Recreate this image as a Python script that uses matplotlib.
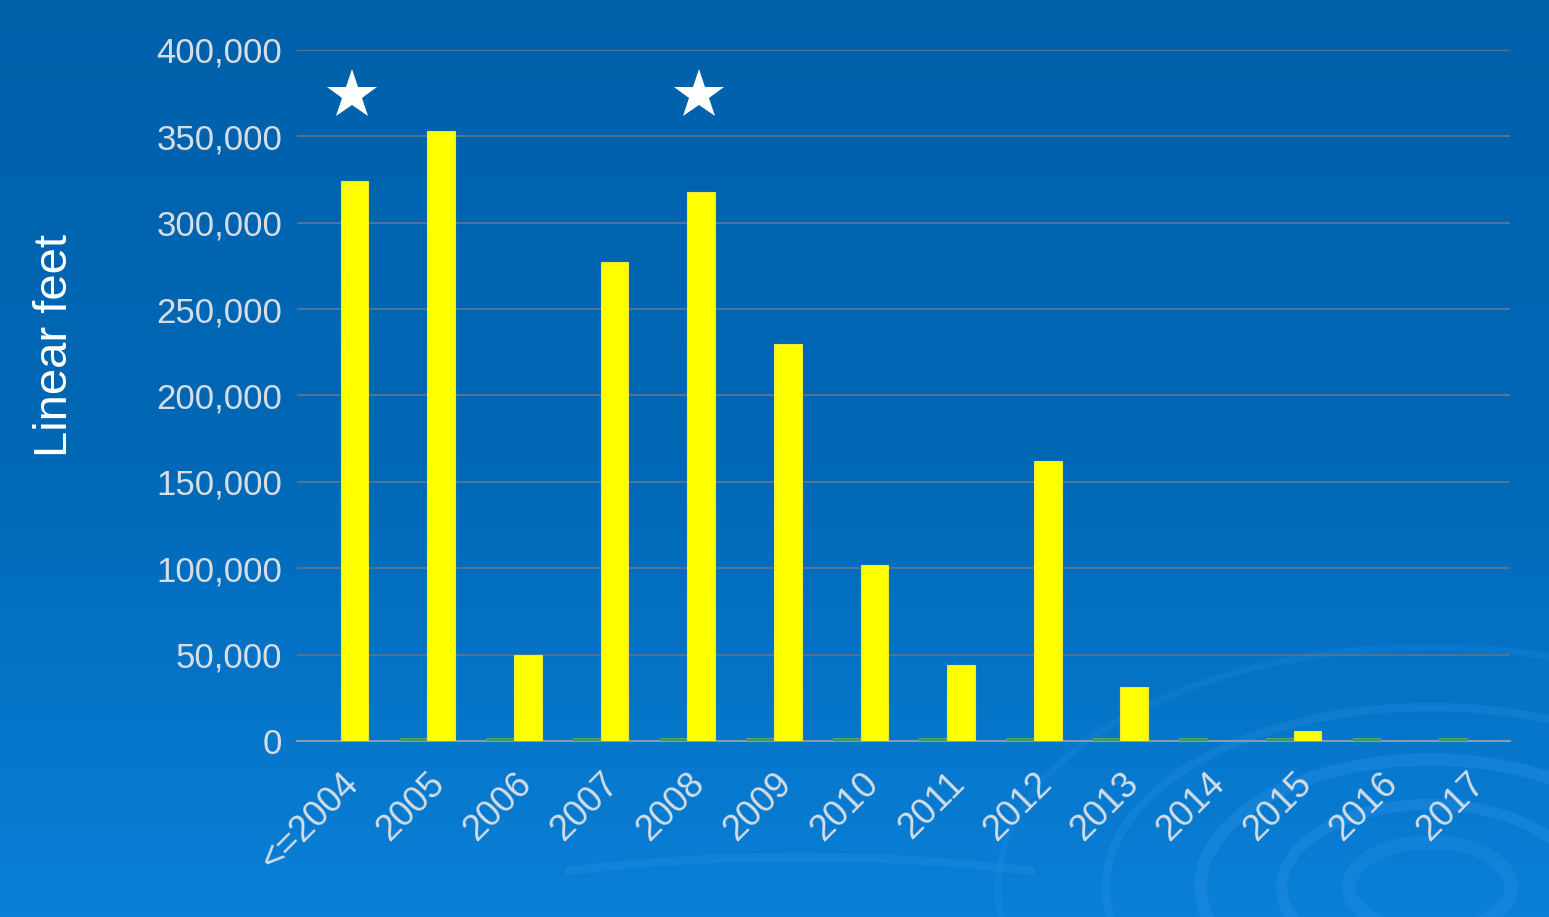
import numpy as np
import matplotlib.pyplot as plt
from matplotlib.patches import Arc
from matplotlib.colors import LinearSegmentedColormap

# data
years = ["<=2004", "2005", "2006", "2007", "2008", "2009", "2010",
         "2011", "2012", "2013", "2014", "2015", "2016", "2017"]
feet = [324000, 353000, 50000, 277000, 318000, 230000, 102000,
        44000, 162000, 31000, 0, 6000, 0, 0]
other = [0, 1600, 1600, 1600, 1600, 1600, 1600,
         1600, 1600, 1600, 1600, 1600, 1600, 1600]
starred = ["<=2004", "2008"]
star_height = 374000

plt.rcParams['font.family'] = ['Liberation Sans', 'DejaVu Sans']

fig = plt.figure(figsize=(15.49, 9.17), dpi=100)

# background gradient and swirl decoration
bg = fig.add_axes([0, 0, 1, 1])
grad = np.linspace(0, 1, 256).reshape(-1, 1)
cmap = LinearSegmentedColormap.from_list("bg", ["#0060aa", "#0068b6", "#0a80d8"])
bg.imshow(grad, aspect='auto', cmap=cmap, extent=[0, 1549, 0, 917], origin='upper')
for r, lw, a in [(60, 10, 0.2), (110, 8, 0.25), (170, 9, 0.25), (240, 6, 0.2), (320, 5, 0.15)]:
    bg.add_patch(Arc((1430, 30), 2 * r * 1.35, 2 * r * 0.75, theta1=0, theta2=360,
                     color="#3a9cf0", lw=lw, alpha=a))
bg.add_patch(Arc((800, -40), 900, 200, theta1=20, theta2=160, color="#3a9cf0", lw=6, alpha=0.2))
bg.set_xlim(0, 1549)
bg.set_ylim(0, 917)
bg.axis('off')

ax = fig.add_axes([0.192, 0.192, 0.783, 0.7535])
ax.patch.set_alpha(0)

x = np.arange(len(years))
w = 0.32
ax.bar(x - w / 2, other, width=w, color="#3f9a5a", edgecolor="#5aa070", lw=0.8, zorder=3)
ax.bar(x + w / 2, feet, width=w, color="#ffff00", edgecolor="#e8e840", lw=0.8, zorder=3)

for name in starred:
    i = years.index(name)
    ax.plot(i + 0.13, star_height, marker='*', color='white', markersize=38,
            markeredgewidth=0, zorder=4, clip_on=False)

ax.set_xlim(-0.5, len(years) - 0.5)
ax.set_ylim(0, 400000)
ax.set_yticks(np.arange(0, 400001, 50000))
ax.set_yticklabels([f"{v:,}" for v in range(0, 400001, 50000)])
ax.yaxis.grid(True, color="#4d7596", lw=1.5, zorder=0)
ax.set_axisbelow(True)

ax.set_xticks(x)
ax.set_xticklabels(years, rotation=45, ha='right', rotation_mode='anchor')
ax.tick_params(axis='both', length=0, colors="#d6dde4", labelsize=25)
ax.tick_params(axis='x', labelsize=26, pad=18)
ax.tick_params(axis='y', pad=11)

for s in ['top', 'right', 'left']:
    ax.spines[s].set_visible(False)
ax.spines['bottom'].set_color("#8a9aaa")
ax.spines['bottom'].set_linewidth(1.5)

ax.set_ylabel("Linear feet", color="white", fontsize=34)
ax.yaxis.set_label_coords(-0.182, 0.573)

fig.savefig("out.png", dpi=100)
